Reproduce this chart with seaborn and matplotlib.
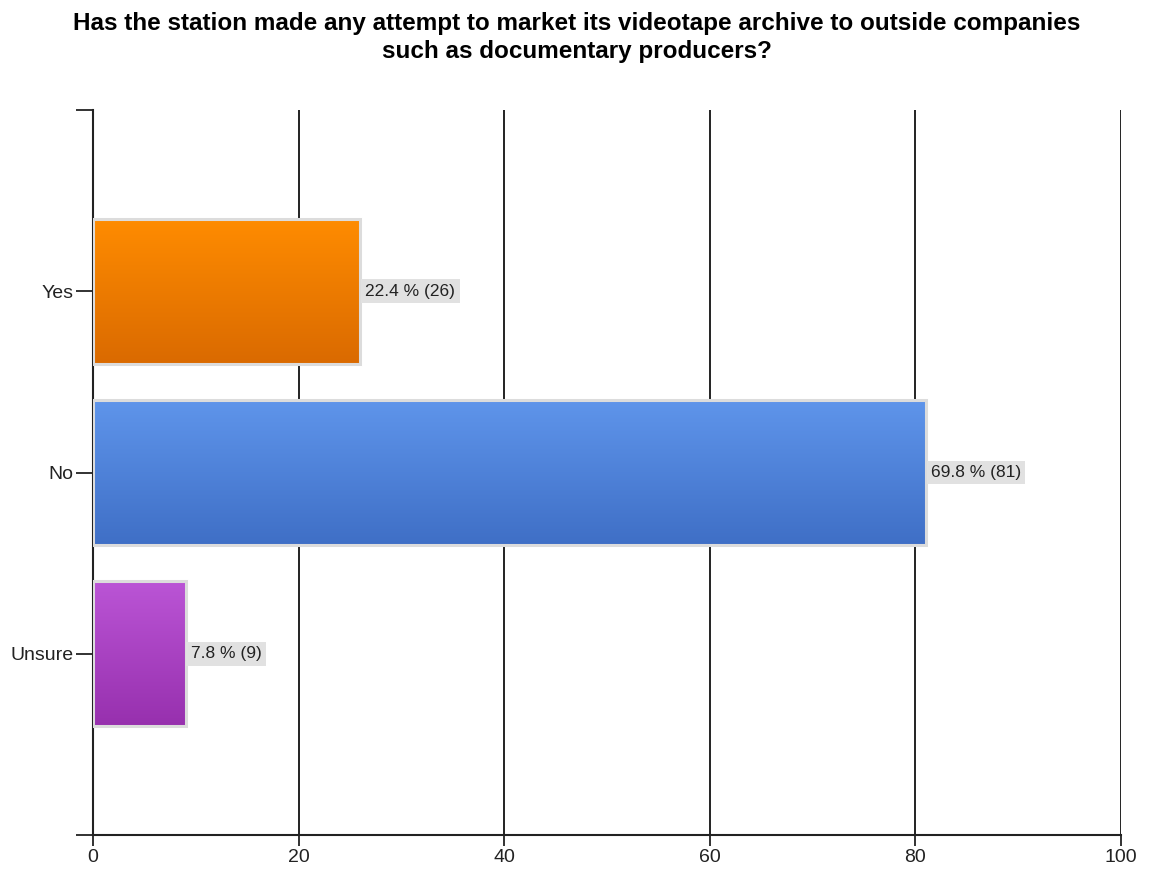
import numpy as np
import pandas as pd
import matplotlib
matplotlib.use('Agg')
import matplotlib.pyplot as plt
from matplotlib.colors import LinearSegmentedColormap
import seaborn as sns

# Survey answers (counts and shares)
answers = ["Yes", "No", "Unsure"]
counts = [26, 81, 9]
percents = [22.4, 69.8, 7.8]
# top / bottom colours of the gradient fill
grad_top = ["#ff8c00", "#5f95eb", "#bb55d6"]
grad_bottom = ["#da6a00", "#3f6fc6", "#9730ae"]

TITLE = ("Has the station made any attempt to market its videotape archive to outside companies\n"
         "such as documentary producers?")

sns.set_style("white")
plt.rcParams['font.family'] = ['Liberation Sans', 'DejaVu Sans']

df = pd.DataFrame({'answer': answers, 'count': counts})

fig = plt.figure(figsize=(11.53, 8.73), dpi=100)
ax = fig.add_axes([0.0807, 0.0435, 0.8916, 0.8305])

sns.barplot(data=df, x='count', y='answer', order=answers, orient='h',
            width=0.8, color='white', edgecolor='#dcdcdc', linewidth=2.2,
            ax=ax, zorder=3)

# gradient fill clipped to each bar
for patch, c1, c2 in zip(ax.patches, grad_top, grad_bottom):
    x0, y0 = patch.get_x(), patch.get_y()
    w, h = patch.get_width(), patch.get_height()
    cmap = LinearSegmentedColormap.from_list('g', [c1, c2])
    grad = np.linspace(0, 1, 256).reshape(-1, 1)
    im = ax.imshow(grad, cmap=cmap, aspect='auto', origin='upper',
                   extent=(x0, x0 + w, y0 + h, y0), zorder=3.5)
    im.set_clip_path(patch)
    patch.set_zorder(4)
    patch.set_facecolor('none')

# value labels with grey boxes
for i, (c, p) in enumerate(zip(counts, percents)):
    ax.text(c + 0.5, i, f"{p} % ({c})", va='center', ha='left', fontsize=12.5,
            color='#222222', zorder=5,
            bbox=dict(boxstyle='square,pad=0.25', fc='#e1e1e1', ec='none'))

ax.set_xlim(0, 100)
ax.set_ylim(3, -1)
ax.set_xticks([0, 20, 40, 60, 80, 100])
ax.set_yticks([-1, 0, 1, 2, 3])
ax.set_yticklabels(['', 'Yes', 'No', 'Unsure', ''])
ax.tick_params(axis='both', bottom=True, left=True, width=1.3, color='#222222',
               labelsize=14, labelcolor='#222222', direction='out', pad=2)
ax.tick_params(axis='y', length=12)
ax.tick_params(axis='x', length=8)
ax.set_xlabel('')
ax.set_ylabel('')

for x in [20, 40, 60, 80, 100]:
    ax.axvline(x, color='#111111', lw=1.3, zorder=1)

for s in ['top', 'right']:
    ax.spines[s].set_visible(False)
for s in ['left', 'bottom']:
    ax.spines[s].set_color('#222222')
    ax.spines[s].set_linewidth(1.5)

fig.suptitle(TITLE, fontsize=17.5, fontweight='bold', x=0.5, y=0.986,
             color='#000000', linespacing=1.28)

fig.savefig('out.png', dpi=100)
